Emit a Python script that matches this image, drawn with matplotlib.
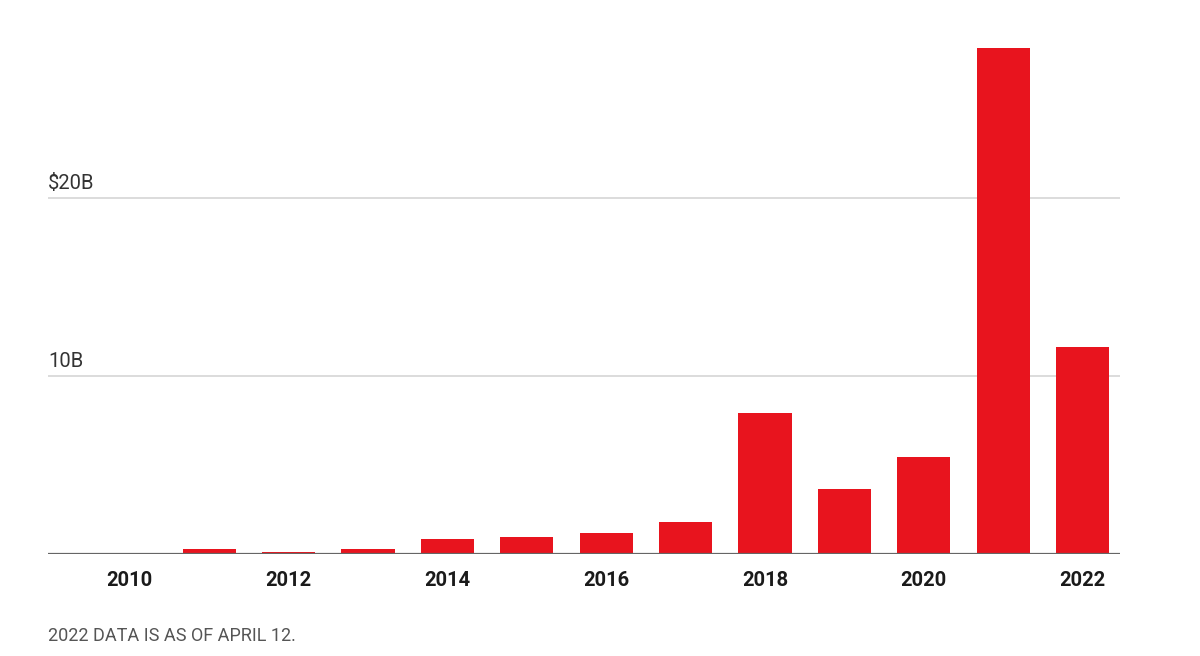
import matplotlib.pyplot as plt

years = list(range(2010, 2023))
values = [0.0, 0.27, 0.1, 0.27, 0.86, 0.97, 1.16, 1.77, 7.92, 3.65, 5.45, 28.4, 11.63]  # $B
tick_years = [2010, 2012, 2014, 2016, 2018, 2020, 2022]
grid_values = [10, 20]
grid_labels = ["10B", "$20B"]
note = "2022 DATA IS AS OF APRIL 12."

plt.rcParams["font.family"] = ["Roboto", "DejaVu Sans"]

fig = plt.figure(figsize=(12, 6.56), dpi=100)
ax = fig.add_axes([0.04, 0.1555, 0.8933, 0.814])

ax.bar(years, values, width=0.67, color="#e8141e", zorder=3)

for v, lab in zip(grid_values, grid_labels):
    ax.axhline(v, color="#d9d9d9", linewidth=1.3, zorder=1)
    ax.text(2010 - 1.03, v + 0.3, lab, fontsize=14.5, color="#333333",
            ha="left", va="bottom")
ax.axhline(0, color="#666666", linewidth=1.6, zorder=4)

ax.set_xlim(2010 - 1.03, 2022 + 0.47)
ax.set_ylim(0, 30)
ax.set_yticks([])
ax.set_xticks(tick_years)
ax.set_xticklabels([str(y) for y in tick_years], fontsize=14.5, fontweight="bold",
                   color="#1a1a1a")
ax.tick_params(axis="x", length=0, pad=12)
for s in ax.spines.values():
    s.set_visible(False)

fig.text(48 / 1200, 1 - 636 / 656, note, fontsize=13, color="#555555",
         ha="left", va="center")

fig.savefig("out.png", dpi=100, facecolor="white")
